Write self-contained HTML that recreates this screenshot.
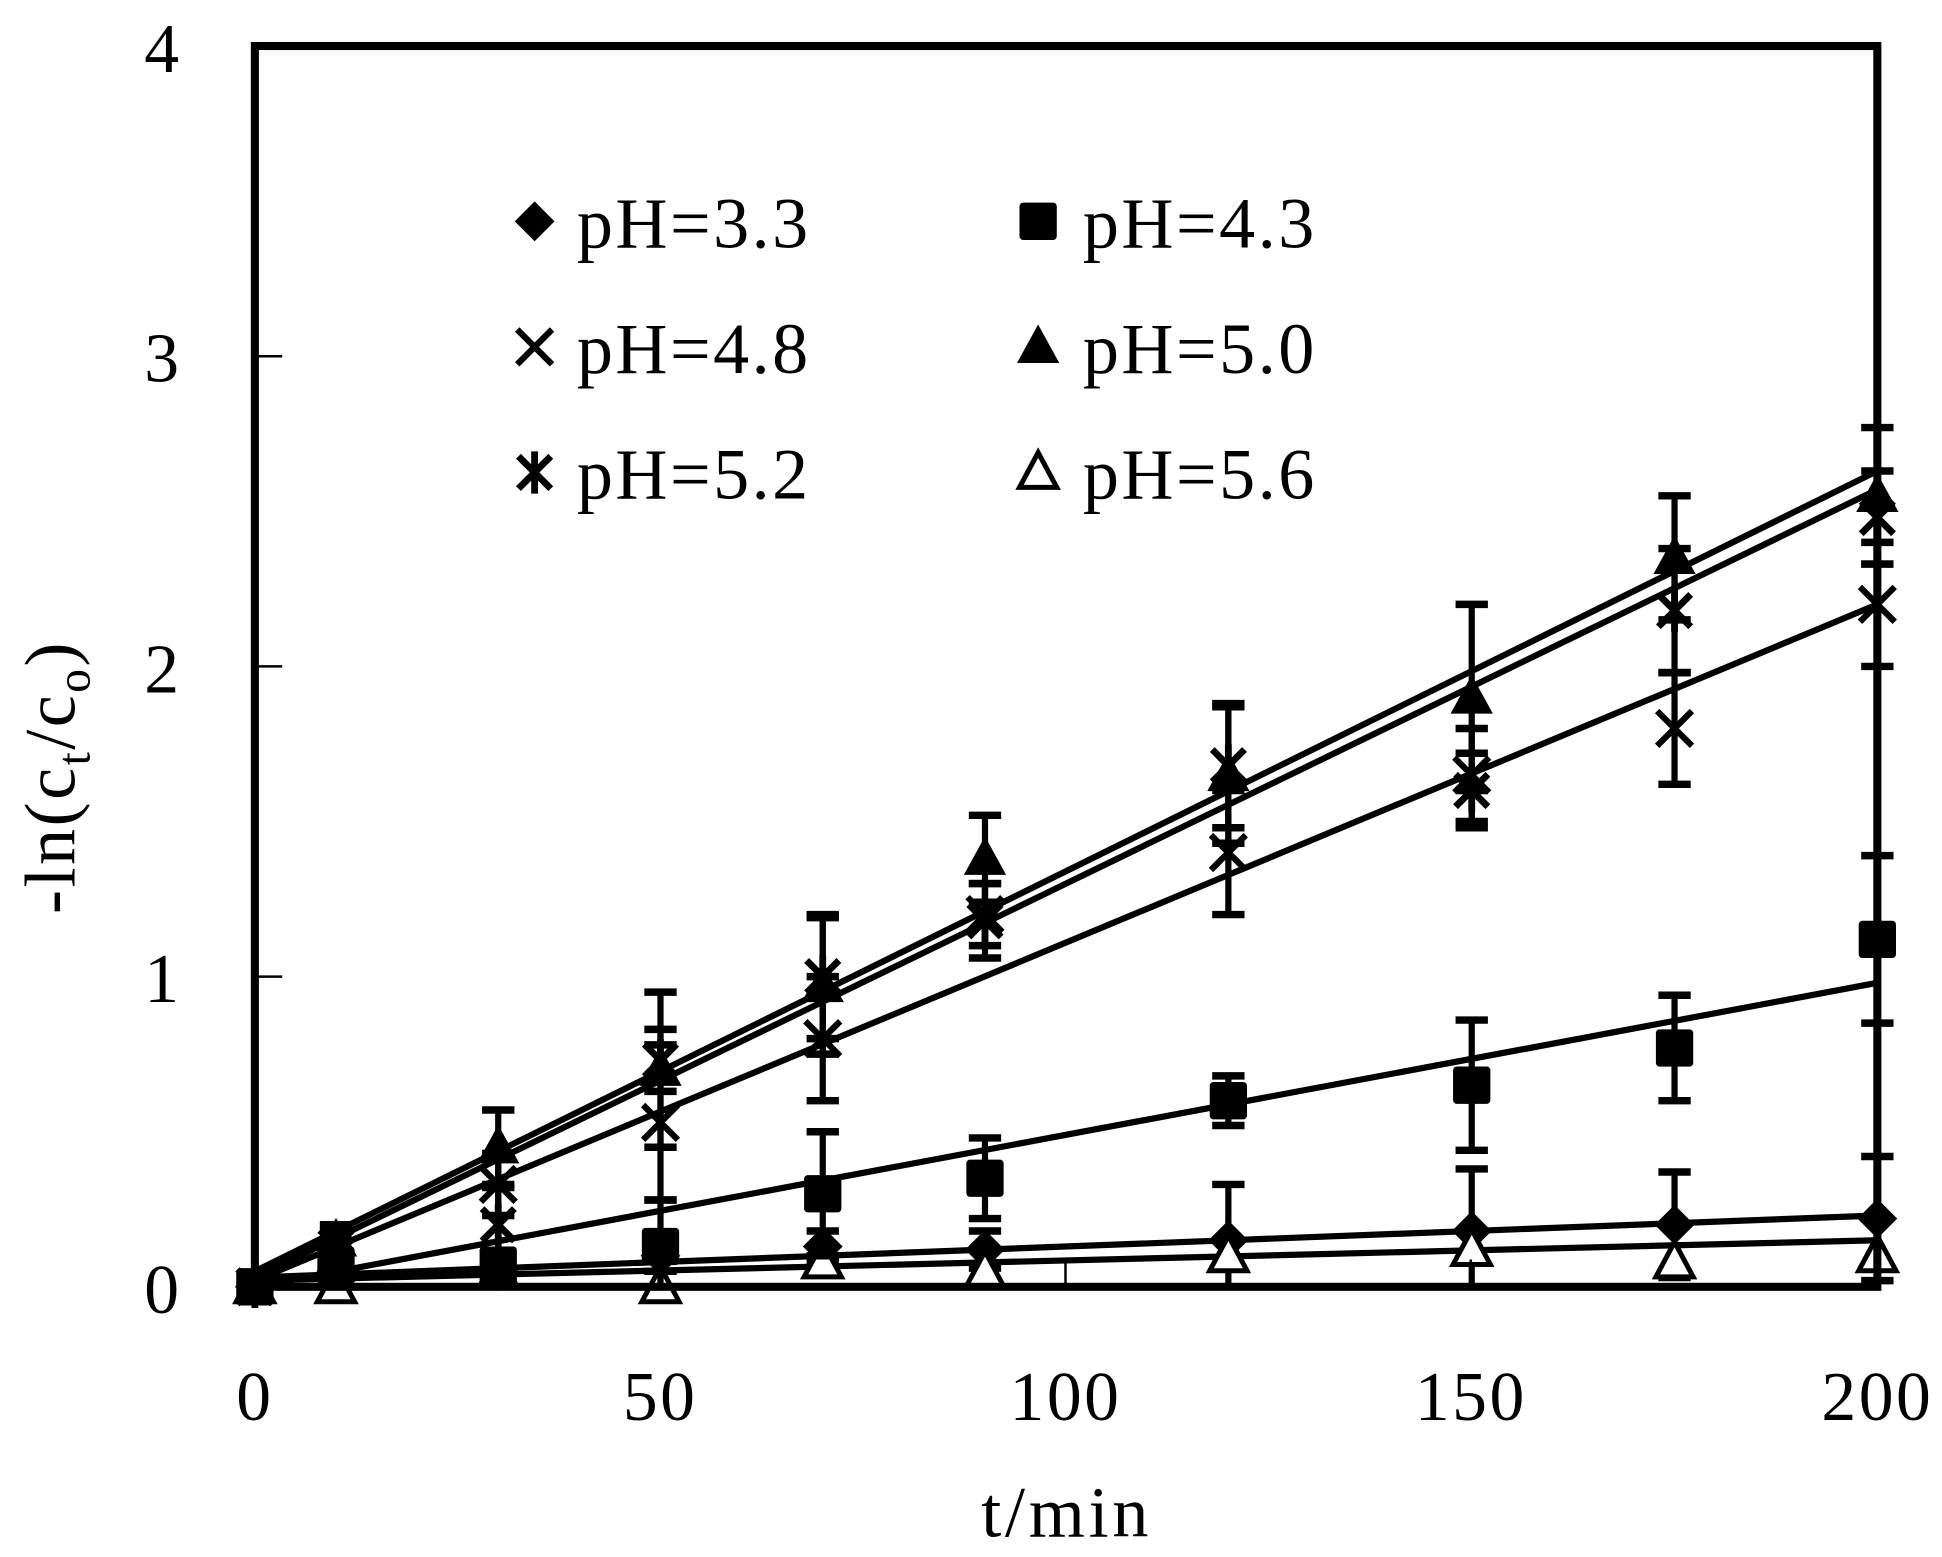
<!DOCTYPE html>
<html><head><meta charset="utf-8"><style>
html,body{margin:0;padding:0;background:#fff;}
svg{display:block;}
text{font-family:"Liberation Serif",serif;fill:#000;}
</style></head><body>
<svg id="s" width="1942" height="1557" viewBox="0 0 1562 1252.3" xmlns="http://www.w3.org/2000/svg">
<rect x="0" y="0" width="1562" height="1253" fill="#fff"/>
<g id="plot"></g>
<rect x="205" y="37" width="1305" height="998" fill="none" stroke="#000" stroke-width="6.5"/>
<g stroke="#000" stroke-width="2">
<line x1="205" y1="286.5" x2="227" y2="286.5"/><line x1="205" y1="536" x2="227" y2="536"/><line x1="205" y1="785.5" x2="227" y2="785.5"/>
<line x1="531" y1="1035" x2="531" y2="1013"/><line x1="857" y1="1035" x2="857" y2="1013"/><line x1="1183" y1="1035" x2="1183" y2="1013"/>
</g>
<g font-size="56" text-anchor="end">
<text x="144" y="58">4</text><text x="144" y="307">3</text><text x="144" y="557">2</text><text x="144" y="806">1</text><text x="144" y="1056">0</text>
</g>
<g font-size="56" text-anchor="middle" letter-spacing="2">
<text x="205" y="1142">0</text><text x="531" y="1142">50</text><text x="857" y="1142">100</text><text x="1183" y="1142">150</text><text x="1510" y="1142">200</text>
<text x="858" y="1236" font-size="58" letter-spacing="3">t/min</text>
</g>
<text font-size="58" text-anchor="middle" letter-spacing="2" transform="translate(60,625) rotate(-90)">-ln(c<tspan font-size="38" dy="12">t</tspan><tspan dy="-12">/c</tspan><tspan font-size="38" dy="12">o</tspan><tspan dy="-12">)</tspan></text>
<g font-size="58" letter-spacing="2">
<text x="464" y="199">pH=3.3</text><text x="871" y="199">pH=4.3</text>
<text x="464" y="300">pH=4.8</text><text x="871" y="300">pH=5.0</text>
<text x="464" y="401">pH=5.2</text><text x="871" y="401">pH=5.6</text>
</g>
<g id="leg"></g>
</svg>
<script>
var NS="http://www.w3.org/2000/svg";
function X(t){return 205+6.525*t;}function Y(v){return 1035-249.5*v;}
function el(p,tag,a){var e=document.createElementNS(NS,tag);for(var k in a)e.setAttribute(k,a[k]);p.appendChild(e);return e;}
var g=document.getElementById('plot'),lg=document.getElementById('leg');
function marker(p,type,x,y){
 var s=16;
 if(type=='d')el(p,'polygon',{points:(x)+','+(y-s)+' '+(x+s)+','+y+' '+x+','+(y+s)+' '+(x-s)+','+y,fill:'#000'});
 else if(type=='s')el(p,'rect',{x:x-15,y:y-15,width:30,height:30,rx:3,fill:'#000'});
 else if(type=='x'){el(p,'path',{d:'M'+(x-14)+' '+(y-14)+'L'+(x+14)+' '+(y+14)+'M'+(x+14)+' '+(y-14)+'L'+(x-14)+' '+(y+14),stroke:'#000','stroke-width':5});}
 else if(type=='t')el(p,'polygon',{points:x+','+(y-18)+' '+(x+17)+','+(y+13)+' '+(x-17)+','+(y+13),fill:'#000'});
 else if(type=='a'){el(p,'path',{d:'M'+(x-13)+' '+(y-13)+'L'+(x+13)+' '+(y+13)+'M'+(x+13)+' '+(y-13)+'L'+(x-13)+' '+(y+13)+'M'+x+' '+(y-17)+'L'+x+' '+(y+17),stroke:'#000','stroke-width':5.5});}
 else if(type=='o')el(p,'polygon',{points:x+','+(y-16)+' '+(x+15)+','+(y+12)+' '+(x-15)+','+(y+12),fill:'#fff',stroke:'#000','stroke-width':4});
}
var T=[0,10,30,50,70,90,120,150,175,200];
var S=[
 {m:'d',l:[0.03,0.23],v:[0,0.02,0.05,0.1,0.13,0.12,0.15,0.18,0.2,0.22],e:[0,0,0.03,0.05,0.05,0.06,0.18,0.2,0.17,0.2]},
 {m:'o',l:[0.02,0.15],v:[0,0,0.05,0,0.08,0.05,0.1,0.12,0.08,0.1],e:[0,0,0,0,0,0,0,0,0,0]},
 {m:'s',l:[0,0.98],v:[0,0.07,0.07,0.13,0.3,0.35,0.6,0.65,0.77,1.12],e:[0,0.05,0.03,0.15,0.2,0.13,0.08,0.21,0.17,0.27]},
 {m:'x',l:[0.02,2.2],v:[0,0.1,0.33,0.53,0.8,1.2,1.4,1.65,1.8,2.2],e:[0,0.05,0.1,0.25,0.2,0.1,0.2,0.15,0.18,0.2]},
 {m:'a',l:[0.03,2.57],v:[0,0.13,0.2,0.73,1.0,1.18,1.68,1.6,2.18,2.48],e:[0,0.05,0.12,0.1,0.2,0.12,0.2,0.12,0.2,0.15]},
 {m:'t',l:[0.05,2.63],v:[0,0.15,0.45,0.7,0.97,1.38,1.65,1.9,2.35,2.55],e:[0,0.05,0.12,0.25,0.22,0.14,0.22,0.3,0.2,0.22]}
];
S.forEach(function(s){
 el(g,'line',{x1:X(0),y1:Y(s.l[0]),x2:X(200),y2:Y(s.l[1]),stroke:'#000','stroke-width':5});
 T.forEach(function(t,i){if(s.e[i]>0){var x=X(t),y1=Y(s.v[i]+s.e[i]),y2=Y(Math.max(0,s.v[i]-s.e[i]));
  el(g,'line',{x1:x,y1:y1,x2:x,y2:y2,stroke:'#000','stroke-width':5});
  el(g,'line',{x1:x-13,y1:y1,x2:x+13,y2:y1,stroke:'#000','stroke-width':6});
  el(g,'line',{x1:x-13,y1:y2,x2:x+13,y2:y2,stroke:'#000','stroke-width':6});}});
 T.forEach(function(t,i){marker(g,s.m,X(t),Y(s.v[i]));});
});
marker(lg,'d',430,178);marker(lg,'s',835,178);marker(lg,'x',430,279);marker(lg,'t',835,279);marker(lg,'a',430,380);marker(lg,'o',835,380);
</script>
</body></html>
